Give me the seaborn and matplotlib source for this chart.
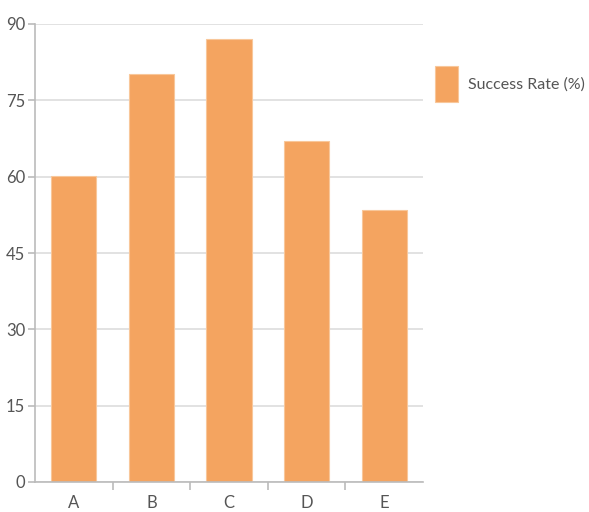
import matplotlib
matplotlib.use("Agg")
import matplotlib.pyplot as plt
import seaborn as sns
import pandas as pd

categories = ["A", "B", "C", "D", "E"]
values = [60.2, 80.2, 87.0, 67.0, 53.4]
yticks = [0, 15, 30, 45, 60, 75, 90]
series_name = "Success Rate (%)"

sns.set_theme(style="white")
plt.rcParams["font.family"] = ["Lato", "DejaVu Sans"]

df = pd.DataFrame({"cat": categories, "val": values, "series": series_name})

fig = plt.figure(figsize=(5.89, 5.12), dpi=100)
ax = fig.add_axes([35/589, 30/512, 388/589, 458/512])
sns.barplot(data=df, x="cat", y="val", hue="series", palette=["#F4A460"],
            width=0.58, ax=ax, saturation=1, edgecolor="#F8C79A", linewidth=0.8)
ax.set_ylim(0, 90)
ax.set_xlim(-0.5, 4.5)
ax.set_yticks(yticks)
ax.set_yticklabels([str(t) for t in yticks])
ax.set_xlabel("")
ax.set_ylabel("")
ax.yaxis.grid(True, color="#DDDDDD", linewidth=1.2)
ax.set_axisbelow(True)
for s in ["top", "right"]:
    ax.spines[s].set_visible(False)
for s in ["left", "bottom"]:
    ax.spines[s].set_color("#BBBBBB")
    ax.spines[s].set_linewidth(1.2)
ax.set_xticks(range(len(categories)))
ax.set_xticklabels(categories)
ax.set_xticks([i + 0.5 for i in range(len(categories) - 1)], minor=True)
ax.tick_params(axis="x", which="major", length=0, pad=9, labelsize=12, labelcolor="#555555")
ax.tick_params(axis="x", which="minor", length=6, color="#BBBBBB", width=1.2, bottom=True)
ax.tick_params(axis="y", length=5, color="#BBBBBB", width=1.2, left=True, pad=2,
               labelsize=12, labelcolor="#555555")
leg = ax.legend(loc="center left", bbox_to_anchor=(435/589, 1 - 84/512),
                bbox_transform=fig.transFigure, frameon=False, borderpad=0, borderaxespad=0,
                fontsize=11.5, handlelength=1.45, handleheight=3.0, handletextpad=0.6)
for t in leg.get_texts():
    t.set_color("#555555")
fig.savefig("out.png", dpi=100)
